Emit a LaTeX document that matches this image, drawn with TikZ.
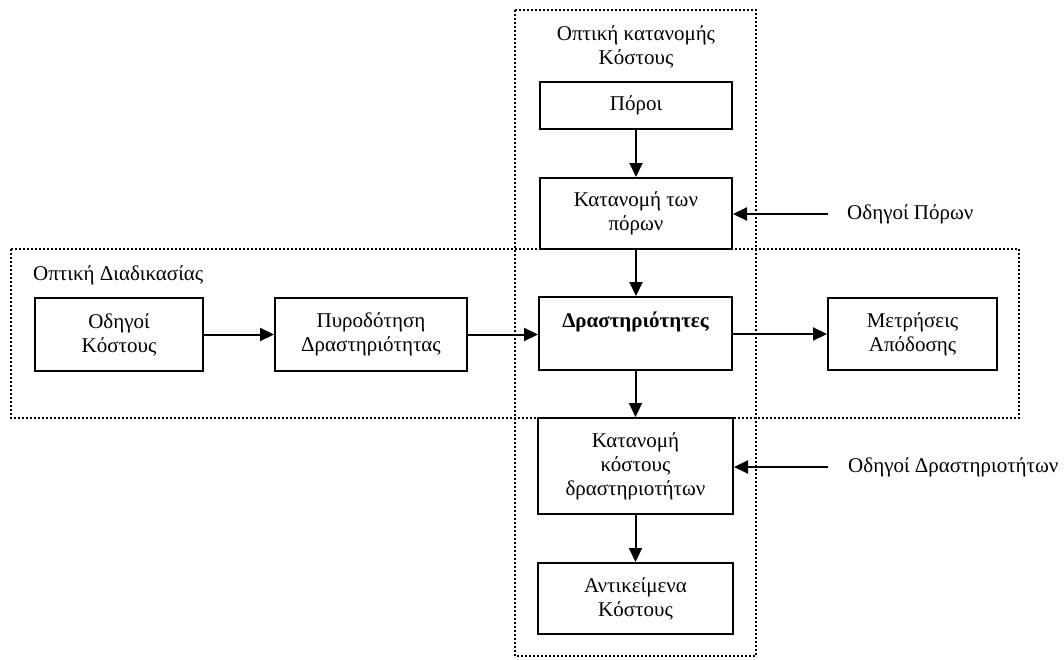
\documentclass[tikz,border=0pt]{standalone}
\usepackage{fontspec}
\setmainfont{Liberation Serif}
\usetikzlibrary{arrows.meta}
\begin{document}
\begin{tikzpicture}[x=1pt,y=-1pt,
  box/.style={draw,line width=2pt,inner sep=0pt,align=center,font=\fontsize{21}{24}\selectfont},
  lbl/.style={inner sep=0pt,align=center,font=\fontsize{21}{24}\selectfont},
  view/.style={line width=2pt,dash pattern=on 2pt off 2pt},
  arr/.style={line width=2pt,-{Triangle[length=14pt,width=13pt]}}]
\useasboundingbox (0,0) rectangle (1064,659);
% dotted view frames
\draw[view] (515,10) rectangle (756,656);
\draw[view] (11,249) rectangle (1019,418);
% labels of the views
\node[lbl] (vcost) at (636,47) {Οπτική κατανομής\\Κόστους};
\node[lbl,anchor=west] (vproc) at (33,275) {Οπτική Διαδικασίας};
% boxes
\node[box,minimum width=192pt,minimum height=47pt] (poroi) at (636,105.5) {Πόροι};
\node[box,minimum width=192pt,minimum height=71pt] (katpor) at (636,213.5) {Κατανομή των\\πόρων};
\node[box,minimum width=193pt,minimum height=73pt] (drast) at (635.5,333.5) {};
\node[lbl,font=\fontsize{21}{24}\selectfont\bfseries] (drastt) at (635.5,322) {Δραστηριότητες};
\node[box,minimum width=169pt,minimum height=72pt] (metr) at (912.5,334) {Μετρήσεις\\Απόδοσης};
\node[box,minimum width=168pt,minimum height=73pt] (odk) at (119,334.5) {Οδηγοί\\Κόστους};
\node[box,minimum width=192pt,minimum height=73pt] (pyr) at (371,334.5) {Πυροδότηση\\Δραστηριότητας};
\node[box,minimum width=195pt,minimum height=96pt] (katk) at (635.5,466) {Κατανομή\\κόστους\\δραστηριοτήτων};
\node[box,minimum width=195pt,minimum height=71pt] (ant) at (635.5,598.5) {Αντικείμενα\\Κόστους};
% driver labels
\node[lbl,anchor=west] (odp) at (847,214) {Οδηγοί Πόρων};
\node[lbl,anchor=west] (odd) at (848,467) {Οδηγοί Δραστηριοτήτων};
\coordinate (odpe) at (828,214);
\coordinate (odde) at (828,467);
% arrows
\draw[arr] (poroi.south) -- (poroi.south |- katpor.north);
\draw[arr] (katpor.south) -- (katpor.south |- drast.north);
\draw[arr] (drast.south) -- (drast.south |- katk.north);
\draw[arr] (katk.south) -- (ant.north);
\draw[arr] (odk.east) -- (pyr.west);
\draw[arr] (pyr.east) -- (pyr.east -| drast.west);
\draw[arr] (drast.east |- metr.west) -- (metr.west);
\draw[arr] (odpe) -- (odpe -| katpor.east);
\draw[arr] (odde) -- (odde -| katk.east);
\end{tikzpicture}
\end{document}
